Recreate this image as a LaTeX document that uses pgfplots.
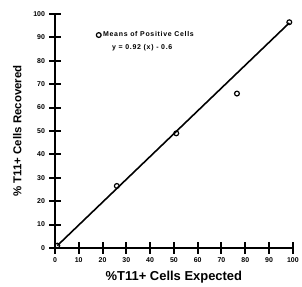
\documentclass[border=0pt]{standalone}
\usepackage{pgfplots}
\pgfplotsset{compat=1.18}
\usepackage{fontspec}
\setmainfont{Liberation Sans}
\newfontfamily\legfont{Liberation Sans}[LetterSpace=10]
\pgfplotsset{tk/.style={line width=2pt, black, forget plot}}
\begin{document}
\begin{tikzpicture}
\begin{axis}[
  scale only axis, width=238bp, height=234bp,
  xmin=0, xmax=100, ymin=0, ymax=100,
  axis x line=bottom, axis y line=left,
  axis line style={line width=1.5pt, -},
  clip=false,
  xtick={0,10,...,100}, ytick={0,10,...,100},
  tick align=center, major tick length=12bp,
  tick style={draw=none},
  /pgf/number format/assume math mode=true,
  tick label style={font=\fontsize{7}{8}\selectfont\bfseries},
  xticklabel style={yshift=-0.5bp},
  yticklabel style={xshift=-0.5bp},
  xlabel={\%T11+ Cells Expected},
  ylabel={\% T11+ Cells Recovered},
  xlabel style={yshift=-1bp, font=\fontsize{13}{15}\selectfont\bfseries},
  ylabel style={yshift=5bp, font=\fontsize{11.5}{14}\selectfont\bfseries},
  legend style={draw=none, fill=none, at={(axis description cs:0.135,0.942)}, anchor=north west,
    font=\legfont\fontsize{7}{8}\selectfont\bfseries, row sep=2.5pt},
  legend cell align=left,
]
\path (axis description cs:-0.231,-0.145) rectangle (axis description cs:1.038,1.06);
% x-axis tick marks
\addplot[tk] coordinates {(0,-2.5) (0,2.5)};
\addplot[tk] coordinates {(10,-2.5) (10,2.5)};
\addplot[tk] coordinates {(20,-2.5) (20,2.5)};
\addplot[tk] coordinates {(30,-2.5) (30,2.5)};
\addplot[tk] coordinates {(40,-2.5) (40,2.5)};
\addplot[tk] coordinates {(50,-2.5) (50,2.5)};
\addplot[tk] coordinates {(60,-2.5) (60,2.5)};
\addplot[tk] coordinates {(70,-2.5) (70,2.5)};
\addplot[tk] coordinates {(80,-2.5) (80,2.5)};
\addplot[tk] coordinates {(90,-2.5) (90,2.5)};
\addplot[tk] coordinates {(100,-2.5) (100,2.5)};
% y-axis tick marks
\addplot[tk] coordinates {(-2.5,0) (2.5,0)};
\addplot[tk] coordinates {(-2.5,10) (2.5,10)};
\addplot[tk] coordinates {(-2.5,20) (2.5,20)};
\addplot[tk] coordinates {(-2.5,30) (2.5,30)};
\addplot[tk] coordinates {(-2.5,40) (2.5,40)};
\addplot[tk] coordinates {(-2.5,50) (2.5,50)};
\addplot[tk] coordinates {(-2.5,60) (2.5,60)};
\addplot[tk] coordinates {(-2.5,70) (2.5,70)};
\addplot[tk] coordinates {(-2.5,80) (2.5,80)};
\addplot[tk] coordinates {(-2.5,90) (2.5,90)};
\addplot[tk] coordinates {(-2.5,100) (2.5,100)};
\addplot[line width=1.6pt, forget plot] coordinates {(1,1) (98.5,96.2)};
\addplot[only marks, mark=o, mark size=2.4bp, mark options={line width=1.2pt, fill=white}] coordinates {
  (1,1) (26,26.5) (51,49) (76.5,66) (98.5,96.5)};
\addlegendentry{Means of Positive Cells}
\addlegendimage{empty legend}
\addlegendentry{\hspace{1.3em}y = 0.92 (x) - 0.6}
\end{axis}
\end{tikzpicture}
\end{document}
